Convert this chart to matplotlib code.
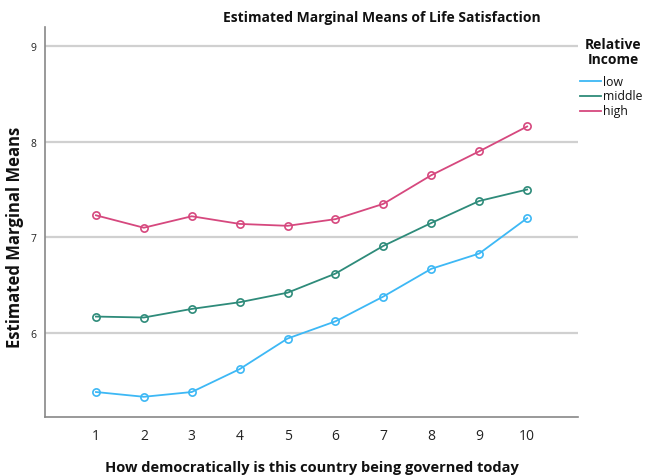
import matplotlib
matplotlib.use("Agg")
import matplotlib.pyplot as plt
from matplotlib.lines import Line2D

plt.rcParams['font.family'] = ['Open Sans', 'DejaVu Sans']

x_vals = [1, 2, 3, 4, 5, 6, 7, 8, 9, 10]
low = [5.38, 5.33, 5.38, 5.62, 5.94, 6.12, 6.38, 6.67, 6.83, 7.20]
middle = [6.17, 6.16, 6.25, 6.32, 6.42, 6.62, 6.91, 7.15, 7.38, 7.50]
high = [7.23, 7.10, 7.22, 7.14, 7.12, 7.19, 7.35, 7.65, 7.90, 8.16]
series_names = ["low", "middle", "high"]
colors = ["#3DB8F5", "#2E8B7A", "#D6487E"]
yticks = [6, 7, 8, 9]

W, H = 645, 477
fig = plt.figure(figsize=(W / 100, H / 100), dpi=100)
ax = fig.add_axes([0.070, 0.124, 0.826, 0.817])

for vals, c, name in zip([low, middle, high], colors, series_names):
    ax.plot(x_vals, vals, color=c, lw=1.3, marker='o', ms=5.2,
            mfc='none', mec=c, mew=1.2, label=name, zorder=3)

ax.set_xlim(-0.06, 11.06)
ax.set_ylim(5.12, 9.2)
ax.set_xticks(x_vals)
ax.set_yticks(yticks)
ax.tick_params(axis='both', length=0, colors='#222222')
ax.tick_params(axis='x', labelsize=10, pad=8)
ax.tick_params(axis='y', labelsize=7.5, pad=6)
ax.grid(axis='y', color='#d0d0d0', lw=1.6)
ax.set_axisbelow(True)
for s in ['top', 'right']:
    ax.spines[s].set_visible(False)
for s in ['left', 'bottom']:
    ax.spines[s].set_color('#888888')
    ax.spines[s].set_linewidth(1.2)

ax.set_xlabel("How democratically is this country being governed today",
              fontsize=10.5, fontweight='bold', color='#111111', labelpad=12)

fig.text(15 / W, 1 - 237 / H, "Estimated Marginal Means", rotation=90,
         ha='center', va='center', fontsize=12, fontweight='bold', color='#111111')

fig.text(0.592, 0.962, "Estimated Marginal Means of Life Satisfaction",
         ha='center', va='center', fontsize=10, fontweight='bold', color='#111111')

# legend drawn in figure pixel coordinates
fig.text(613 / W, 1 - 45 / H, "Relative", ha='center', va='center',
         fontsize=10, fontweight='bold', color='#111111')
fig.text(613 / W, 1 - 60 / H, "Income", ha='center', va='center',
         fontsize=10, fontweight='bold', color='#111111')
for i, (c, name) in enumerate(zip(colors, series_names)):
    yp = 1 - (82 + 15 * i) / H
    fig.add_artist(Line2D([580 / W, 601 / W], [yp, yp], color=c, lw=1.3,
                          transform=fig.transFigure))
    fig.text(603 / W, yp, name, ha='left', va='center', fontsize=8.8,
             color='#111111')

fig.savefig("out.png", dpi=100)
